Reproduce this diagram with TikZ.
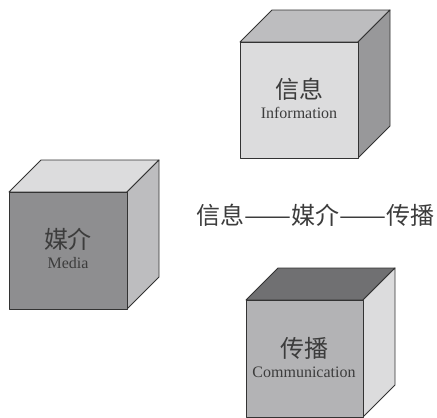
\documentclass[tikz,border=0pt]{standalone}
\usepackage{fontspec}
\usepackage{graphicx}
\setmainfont{Liberation Serif}
\newfontfamily\cjk{Noto Sans CJK SC}
\definecolor{edge}{HTML}{333333}
\definecolor{gA}{HTML}{DCDCDD}
\definecolor{gB}{HTML}{BDBDBF}
\definecolor{gC}{HTML}{98989A}
\definecolor{gD}{HTML}{8E8E90}
\definecolor{gE}{HTML}{B3B3B5}
\definecolor{gF}{HTML}{707072}
\definecolor{txt}{HTML}{3C3C3C}
\tikzset{
  face/.style={draw=edge, line width=0.9pt, line join=round},
  zh/.style={font=\cjk\fontsize{24}{24}\selectfont, text=txt, inner sep=0pt},
  en/.style={font=\fontsize{16}{16}\selectfont, text=txt, inner sep=0pt},
}
\newcommand{\ddash}{\resizebox{47pt}{\height}{——}}
% \cubebox{x0}{y0}{x1}{y1}{dx}{dy}{front}{top}{side}
\newcommand{\cubebox}[9]{%
  \fill[#8,face] (#1,#2) -- (#3,#2) -- (#3+#5,#2-#6) -- (#1+#5,#2-#6) -- cycle;
  \fill[#9,face] (#3,#2) -- (#3+#5,#2-#6) -- (#3+#5,#4-#6) -- (#3,#4) -- cycle;
  \fill[#7,face] (#1,#2) rectangle (#3,#4);
}
\begin{document}
\begin{tikzpicture}[x=1pt,y=-1pt]
\useasboundingbox (0,0) rectangle (437,418);
% Information cube
\cubebox{240}{42}{358}{158}{32}{32}{gA}{gB}{gC}
\node[zh] (infozh) at (299,89) {信息};
\node[en] (infoen) at (299,113) {Information};
% Media cube
\cubebox{9}{192}{127}{309}{32}{32}{gD}{gA}{gB}
\node[zh] (mediazh) at (68,239) {媒介};
\node[en] (mediaen) at (68,263) {Media};
% Communication cube
\cubebox{246}{300}{363}{417}{32}{32}{gE}{gF}{gA}
\node[zh] (commzh) at (304,348) {传播};
\node[en] (commen) at (304,372) {Communication};
% middle line
\node[zh, anchor=west] (chain) at (196,215) {信息\ddash 媒介\ddash 传播};
\end{tikzpicture}
\end{document}
